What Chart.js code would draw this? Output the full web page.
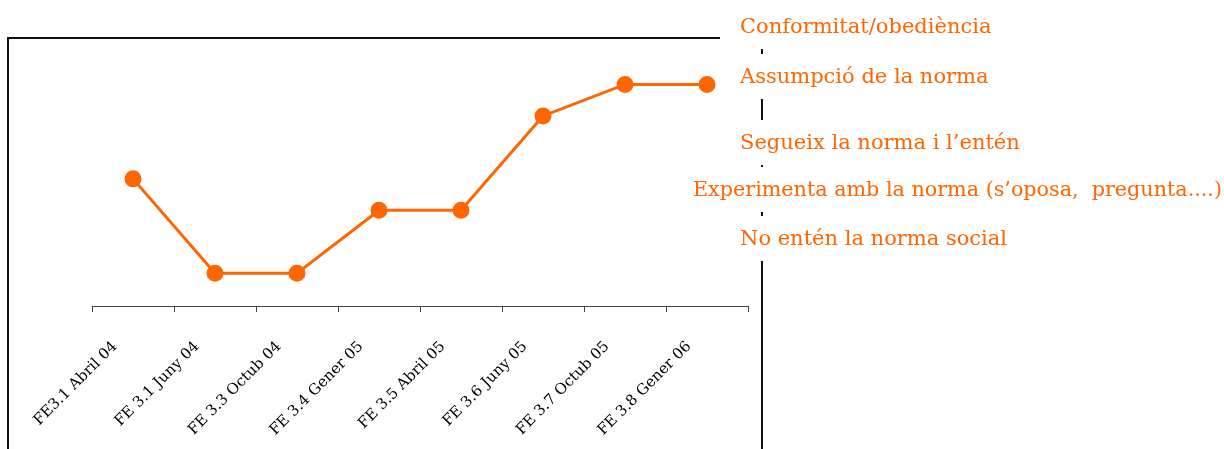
<!DOCTYPE html>
<html>
<head>
<meta charset="utf-8">
<script src="https://cdn.jsdelivr.net/npm/chart.js@4.4.1/dist/chart.umd.min.js"></script>
<style>
  html, body { margin: 0; padding: 0; background: #fff; }
  #wrap { position: relative; width: 1224px; height: 449px; }
</style>
</head>
<body>
<div id="wrap"><canvas id="chart" width="1224" height="449"></canvas></div>
<script>
// categories (x) and the level reached in each evaluation
const categories = ['FE3.1 Abril 04', 'FE 3.1 Juny 04', 'FE 3.3 Octub 04', 'FE 3.4 Gener 05',
                    'FE 3.5 Abril 05', 'FE 3.6 Juny 05', 'FE 3.7 Octub 05', 'FE 3.8 Gener 06'];
const levels = [2.5, 1, 1, 2, 2, 3.5, 4, 4];
// scale of behaviour, top to bottom
const levelLabels = ['Conformitat/obediència', 'Assumpció de la norma', 'Segueix la norma i l\u2019entén',
                     'Experimenta amb la norma (s\u2019oposa,  pregunta....)', 'No entén la norma social'];

const ORANGE = '#FF6600';
const SERIF = '"DejaVu Serif", serif';

// where the side labels sit (left x, middle y)
const sideSpots = [[740, 28], [740, 78], [740, 144], [693, 191], [740, 240]];

const framePlugin = {
    id: 'frame',
    beforeDraw(chart) {
        const c = chart.ctx;
        c.save();
        c.strokeStyle = '#111';
        c.lineWidth = 2;
        // box top + left edge
        c.beginPath();
        c.moveTo(720, 38); c.lineTo(8, 38); c.lineTo(8, 449);
        c.stroke();
        // vertical scale line on the right
        c.beginPath();
        c.moveTo(762, 38); c.lineTo(762, 449);
        c.stroke();
        c.restore();
    },
    afterDraw(chart) {
        const c = chart.ctx;
        c.save();
        c.font = '21px ' + SERIF;
        c.textBaseline = 'middle';
        levelLabels.forEach((txt, i) => {
            const [x, y] = sideSpots[i];
            const w = Math.min(c.measureText(txt).width, 1222 - x);
            // white box hides the scale line behind the text
            c.fillStyle = '#fff';
            c.fillRect(x - 4, y - 24, w + 8, 45);
            c.fillStyle = ORANGE;
            c.fillText(txt, x, y, 1222 - x);
        });
        c.restore();
    }
};

const ctx = document.getElementById('chart').getContext('2d');
new Chart(ctx, {
    type: 'line',
    data: {
        labels: categories,
        datasets: [{
            data: levels,
            borderColor: ORANGE, backgroundColor: ORANGE,
            borderWidth: 3, pointRadius: 7, pointHoverRadius: 7, tension: 0
        }]
    },
    options: {
        responsive: false,
        animation: false,
        layout: { padding: { left: 92, right: 476, top: 53, bottom: 0 } },
        plugins: { legend: { display: false }, tooltip: { enabled: false } },
        scales: {
            x: {
                offset: true,
                grid: { offset: true, drawOnChartArea: false, tickLength: 6, color: '#444' },
                border: { color: '#444', width: 1 },
                ticks: {
                    minRotation: 45, maxRotation: 45, autoSkip: false,
                    color: '#000', font: { family: SERIF, size: 15 },
                    padding: 26, labelOffset: -18
                },
                afterFit(s) { s.height = 143; }
            },
            y: { display: false, min: 0.48, max: 4.5 }
        }
    },
    plugins: [framePlugin]
});
</script>
</body>
</html>
